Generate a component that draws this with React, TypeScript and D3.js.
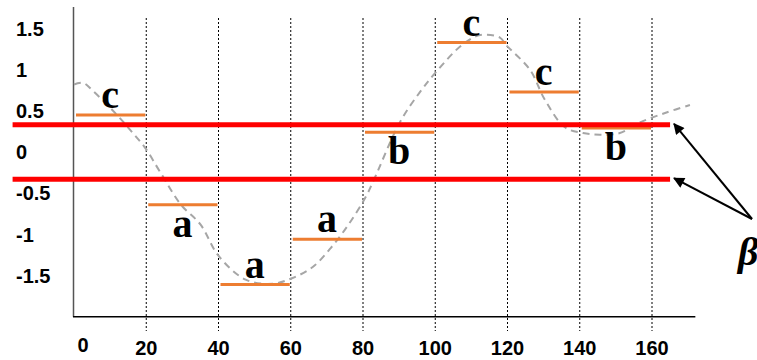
import React from "react";
import * as d3 from "d3";

// time series (dashed gray curve)
const seriesT = [0, 2.5, 5.3, 11.9, 16.1, 19.7, 23.8, 29.6, 35, 40, 47.5, 55, 60.5, 66, 71, 76, 80.7, 83, 90.2, 95.8, 100, 107.4, 112.4, 117.9, 119.6, 126.2, 130.4, 135.9, 140.9, 145.6, 151.1, 156.7, 164, 170.5];
const seriesV = [0.82, 0.84, 0.74, 0.45, 0.24, 0.05, -0.24, -0.64, -0.88, -1.26, -1.55, -1.6, -1.53, -1.4, -1.17, -0.88, -0.55, -0.34, 0.36, 0.73, 0.96, 1.3, 1.42, 1.39, 1.3, 1.0, 0.63, 0.3, 0.23, 0.21, 0.23, 0.36, 0.48, 0.57];

// PAA segments and their SAX letters
const segStarts = [0, 20, 40, 60, 80, 100, 120, 140];
const segWidth = 20;
const paaValues = [0.45, -0.64, -1.61, -1.06, 0.24, 1.33, 0.73, 0.29];
const saxLetters = ["c", "a", "a", "a", "b", "c", "c", "b"];
const letterBelow = [false, true, false, false, true, false, false, true];

// breakpoints
const breakpoints = [0.33, -0.33];

const xTicks = [0, 20, 40, 60, 80, 100, 120, 140, 160];
const yTicks = [1.5, 1, 0.5, 0, -0.5, -1, -1.5];

const W = 757;
const H = 360;

export default function App() {
  const x = d3.scaleLinear().domain([0, 160]).range([74, 652]);
  const y = d3.scaleLinear().domain([-1.5, 1.5]).range([275.5, 28.5]);

  const line = d3
    .line<number>()
    .x((_, i) => x(seriesT[i]))
    .y((v) => y(v))
    .curve(d3.curveCatmullRom);

  const sans = "'Liberation Sans', Arial, sans-serif";
  const serif = "'Liberation Serif', 'Times New Roman', serif";

  return (
    <svg
      width={W}
      height={H}
      style={{ position: "absolute", left: 0, top: 0, background: "#fff" }}
    >
      <defs>
        <marker
          id="head"
          viewBox="0 0 10 10"
          refX="9"
          refY="5"
          markerWidth="6.5"
          markerHeight="5.5"
          orient="auto"
          markerUnits="strokeWidth"
        >
          <path d="M0,0 L10,5 L0,10 z" fill="#000" />
        </marker>
      </defs>

      {/* dotted verticals */}
      {xTicks.slice(1).map((t) => (
        <line
          key={t}
          x1={x(t)}
          x2={x(t)}
          y1={18}
          y2={331}
          stroke="#000"
          strokeWidth={1}
          strokeDasharray="2,2"
        />
      ))}

      {/* axes */}
      <line x1={x(0) - 0.5} x2={x(0) - 0.5} y1={7} y2={y(-2)} stroke="#555" strokeWidth={1.5} />
      <line x1={x(0) - 1} x2={x(172)} y1={y(-2)} y2={y(-2)} stroke="#000" strokeWidth={1.5} />

      {/* y labels */}
      {yTicks.map((v) => (
        <text
          key={v}
          x={16}
          y={y(v)}
          dy="0.36em"
          fontFamily={sans}
          fontWeight="bold"
          fontSize={20}
          fill="#000"
        >
          {v}
        </text>
      ))}

      {/* x labels */}
      {xTicks.map((t) => (
        <text
          key={t}
          x={t === 0 ? x(t) + 9 : x(t)}
          y={t === 0 ? 352 : 355}
          textAnchor="middle"
          fontFamily={sans}
          fontWeight="bold"
          fontSize={20}
          fill="#000"
        >
          {t}
        </text>
      ))}

      {/* time series */}
      <path
        d={line(seriesV) || ""}
        fill="none"
        stroke="#A6A6A6"
        strokeWidth={2}
        strokeDasharray="7,5"
      />

      {/* PAA segments */}
      {segStarts.map((s, i) => (
        <line
          key={s}
          x1={x(s) + 2}
          x2={x(s + segWidth) - 1}
          y1={y(paaValues[i])}
          y2={y(paaValues[i])}
          stroke="#ED7D31"
          strokeWidth={3}
        />
      ))}

      {/* breakpoints */}
      {breakpoints.map((b) => (
        <line
          key={b}
          x1={x(-17)}
          x2={x(165)}
          y1={y(b)}
          y2={y(b)}
          stroke="#FF0000"
          strokeWidth={5}
        />
      ))}

      {/* SAX letters */}
      {segStarts.map((s, i) => (
        <text
          key={"l" + s}
          x={x(s + segWidth / 2)}
          y={y(paaValues[i]) + (letterBelow[i] ? 32 : -7)}
          textAnchor="middle"
          fontFamily={serif}
          fontWeight="bold"
          fontSize={40}
          fill="#000"
        >
          {saxLetters[i]}
        </text>
      ))}

      {/* arrows to breakpoints */}
      {breakpoints.map((b) => (
        <line
          key={"a" + b}
          x1={752}
          y1={219}
          x2={x(165) + 4}
          y2={y(b) - 1}
          stroke="#000"
          strokeWidth={2}
          markerEnd="url(#head)"
        />
      ))}
      <text
        x={738}
        y={265}
        fontFamily={serif}
        fontWeight="bold"
        fontStyle="italic"
        fontSize={40}
        fill="#000"
      >
        β
      </text>
    </svg>
  );
}
